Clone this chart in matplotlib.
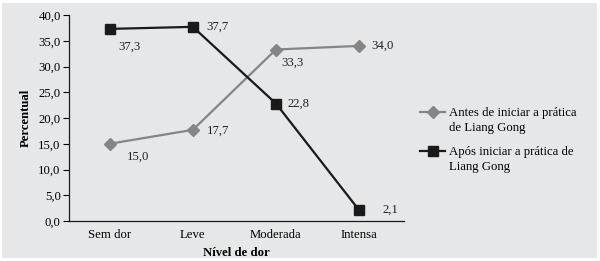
import numpy as np
import matplotlib
matplotlib.use('Agg')
import matplotlib.pyplot as plt
from matplotlib.patches import Rectangle
from matplotlib.legend_handler import HandlerLine2D

plt.rcParams['font.family'] = ['Liberation Serif', 'DejaVu Serif']

categories = ['Sem dor', 'Leve', 'Moderada', 'Intensa']
antes = [15.0, 17.7, 33.3, 34.0]
apos = [37.3, 37.7, 22.8, 2.1]
series_names = ['Antes de iniciar a prática\nde Liang Gong',
                'Após iniciar a prática de\nLiang Gong']
yticks = [0, 5, 10, 15, 20, 25, 30, 35, 40]

bg = '#e6e7e8'
gray = '#858585'
dark = '#1a1a1a'
fs = 9.2


class TopAligned(HandlerLine2D):
    # put the legend key next to the first line of a two-line label
    def create_artists(self, legend, orig_handle, xdescent, ydescent,
                       width, height, fontsize, trans):
        arts = super().create_artists(legend, orig_handle, xdescent, ydescent,
                                      width, height, fontsize, trans)
        for a in arts:
            a.set_ydata(np.asarray(a.get_ydata()) + 6.3)
        return arts


fig = plt.figure(figsize=(6.0, 2.61), dpi=100)
fig.patch.set_facecolor('white')
fig.patches.append(Rectangle((2 / 600, 3 / 261), 595 / 600, 255 / 261,
                             transform=fig.transFigure, facecolor=bg,
                             edgecolor='none', zorder=-10))

ax = fig.add_axes([69 / 600, 40 / 261, 335 / 600, 206 / 261])
ax.set_facecolor('none')
x = np.arange(len(categories))

ax.plot(x, antes, color=gray, lw=1.6, marker='D', ms=6.5, mec=gray, mfc=gray,
        label=series_names[0])
ax.plot(x, apos, color=dark, lw=1.6, marker='s', ms=7.5, mec=dark, mfc=dark,
        label=series_names[1])

def fmt(v):
    return '{0:.1f}'.format(v).replace('.', ',')

# label offsets in pixels (right, down)
off_antes = [(17, 13), (14, 1), (5, 13), (12, 0)]
off_apos = [(9, 18), (13, 0), (12, 0), (23, 0)]
for vals, offs in ((antes, off_antes), (apos, off_apos)):
    for i in range(len(categories)):
        dx, dy = offs[i]
        ax.annotate(fmt(vals[i]), (x[i], vals[i]),
                    xytext=(dx * 0.72, -dy * 0.72),
                    textcoords='offset points', fontsize=fs, va='center',
                    ha='left', color='#222222')

ax.set_xlim(-0.49, 3.54)
ax.set_ylim(0, 40)
ax.set_xticks(x)
ax.set_xticklabels(categories, fontsize=fs)
ax.set_yticks(yticks)
ax.set_yticklabels([fmt(v) for v in yticks], fontsize=fs)
ax.tick_params(axis='x', length=0, pad=6)
ax.tick_params(axis='y', length=4, width=0.8, direction='out', pad=2)
for s in ['top', 'right']:
    ax.spines[s].set_visible(False)
for s in ['left', 'bottom']:
    ax.spines[s].set_color(dark)
    ax.spines[s].set_linewidth(0.9)

ax.set_xlabel('Nível de dor', fontsize=fs, fontweight='bold', labelpad=4)
ax.set_ylabel('Percentual', fontsize=fs, fontweight='bold', labelpad=5)

leg = fig.legend(loc='upper left', bbox_to_anchor=(415 / 600, 1 - 102 / 261),
                 frameon=False, fontsize=fs, handlelength=1.95,
                 handletextpad=0.3, labelspacing=0.9, borderaxespad=0,
                 handler_map={matplotlib.lines.Line2D: TopAligned()})
for t in leg.get_texts():
    t.set_linespacing(1.35)

fig.savefig('out.png', dpi=100, facecolor=fig.get_facecolor())
